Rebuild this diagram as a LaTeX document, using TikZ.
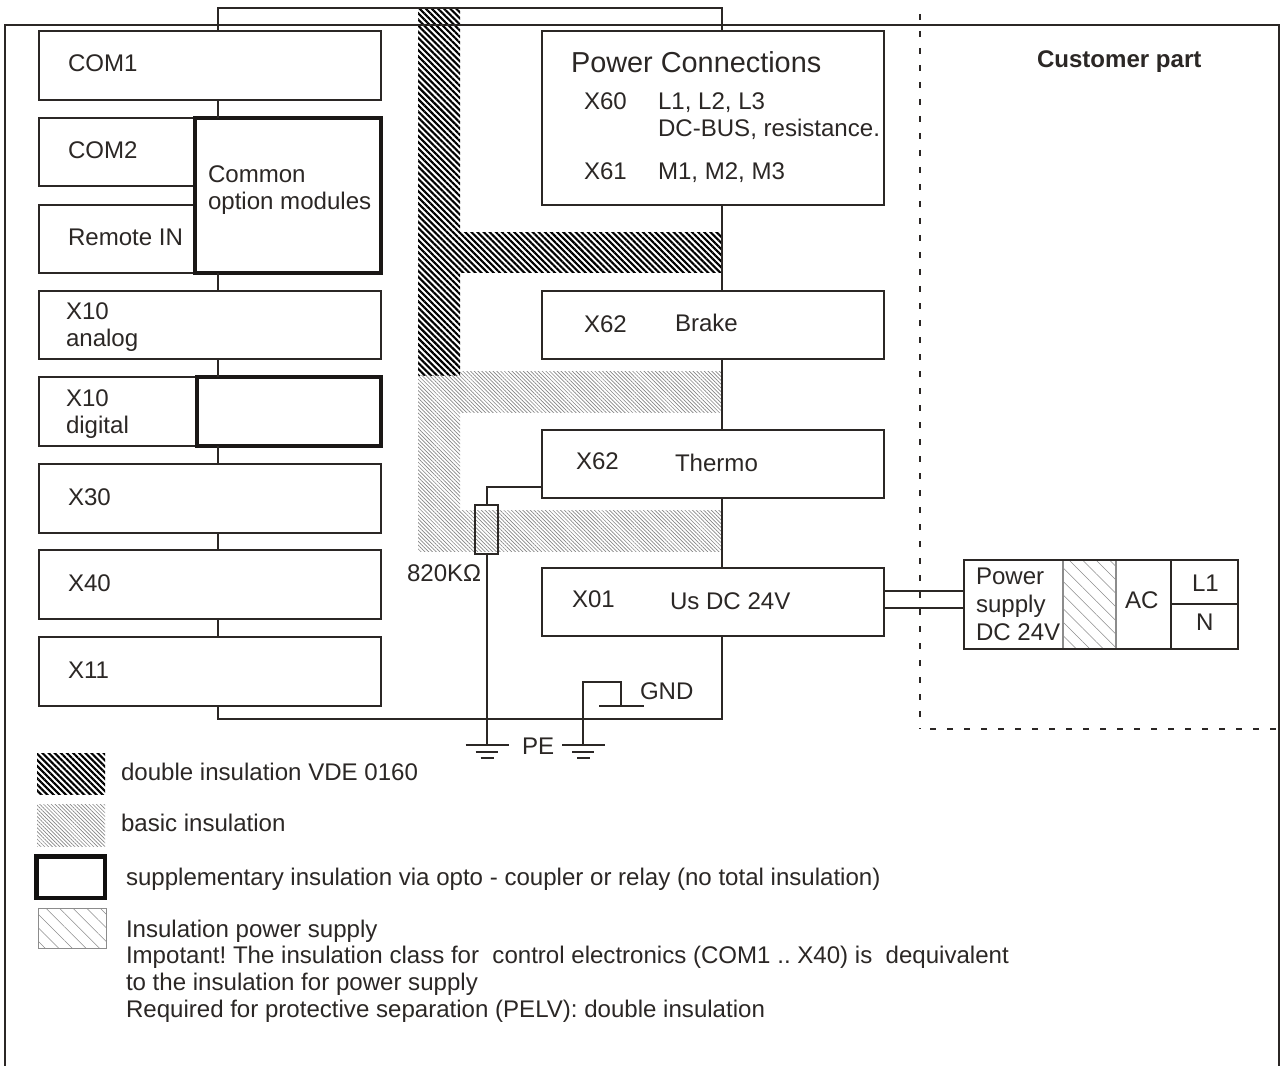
\documentclass[tikz,border=0pt]{standalone}
\usepackage{fontspec}
\setmainfont{Liberation Sans}
\usetikzlibrary{patterns.meta,calc}
\frenchspacing
\definecolor{ink}{HTML}{2B2725}
\tikzset{
 wire/.style={draw=ink,line width=1.5pt,line cap=butt,line join=miter},
 boxn/.style={draw=ink,line width=1.5pt,inner sep=0pt,outer sep=0pt},
 thickbox/.style={draw=ink!60!black,line width=2.7pt,inner sep=0pt,outer sep=0pt},
 legendbox/.style={draw=ink!40!black,line width=3.5pt,inner sep=0pt,outer sep=0pt},
 resbox/.style={draw=ink,line width=1.8pt,inner sep=0pt,outer sep=0pt},
 txt/.style={anchor=base west,inner sep=0pt,outer sep=0pt,text=ink,font=\fontsize{18.05}{21}\selectfont},
 dbl/.style={pattern={Lines[angle=-45,distance=3.25pt,line width=1.6pt]},pattern color=black},
 basic/.style={pattern={Lines[angle=-45,distance=2pt,line width=0.5pt]},pattern color=black!48},
 sup/.style={pattern={Lines[angle=-45,distance=7.2pt,line width=0.4pt]},pattern color=black!45},
 dotline/.style={draw=ink,line width=2pt,dash pattern=on 4.5pt off 8.25pt},
}
\newcommand{\bx}[6][boxn]{\node[#1,minimum width={(#5-#3)*0.75pt},minimum height={(#6-#4)*0.75pt}] (#2) at ({(#3+#5)/2},{(#4+#6)/2}) {};}
\begin{document}
\begin{tikzpicture}[x=0.75pt,y=-0.75pt]
\useasboundingbox (0,0) rectangle (1281,1066);
% insulation hatching
\path[dbl] (418,9) rectangle (460,375);
\path[dbl] (460,233) rectangle (722,273);
\path[basic] (418,375) rectangle (460,551);
\path[basic] (460,371) rectangle (722,412);
\path[basic] (460,510) rectangle (722,551);
% frame
\draw[wire] (5,1066) -- (5,25) -- (1279,25) -- (1279,1066);
\draw[dotline] (920,14) -- (920,729);
\draw[dotline] (930,729) -- (1279,729);
% left column
\bx{com1}{39}{31}{381}{100}
\bx{com2}{39}{118}{195}{186}
\bx{remote}{39}{205}{195}{273}
\bx{xana}{39}{291}{381}{359}
\bx{xdig}{39}{377}{197}{446}
\bx{xthirty}{39}{464}{381}{533}
\bx{xforty}{39}{550}{381}{619}
\bx{xeleven}{39}{637}{381}{706}
\bx[thickbox]{comt}{195}{118}{381}{273}
\bx[thickbox]{xdigt}{197}{377}{381}{446}
% right column
\bx{pow}{542}{31}{884}{205}
\bx{brake}{542}{291}{884}{359}
\bx{thermo}{542}{430}{884}{498}
\bx{xzero}{542}{568}{884}{636}
% buses
\coordinate (bl) at (218,0);
\coordinate (br) at (722,0);
\coordinate (bt) at (0,8);
\coordinate (bb) at (0,719);
\draw[wire] (bl |- com1.north) -- (bl |- bt) -- (br |- bt) -- (br |- pow.north);
\draw[wire] (bl |- com1.south) -- (bl |- com2.north);
\draw[wire] (bl |- remote.south) -- (bl |- xana.north);
\draw[wire] (bl |- xana.south) -- (bl |- xdig.north);
\draw[wire] (bl |- xdig.south) -- (bl |- xthirty.north);
\draw[wire] (bl |- xthirty.south) -- (bl |- xforty.north);
\draw[wire] (bl |- xforty.south) -- (bl |- xeleven.north);
\draw[wire] (bl |- xeleven.south) -- (bl |- bb) -- (br |- bb) -- (br |- xzero.south);
\draw[wire] (br |- pow.south) -- (br |- brake.north);
\draw[wire] (br |- brake.south) -- (br |- thermo.north);
\draw[wire] (br |- thermo.south) -- (br |- xzero.north);
% resistor and earth
\bx[resbox]{res}{475}{505}{498}{554}
\coordinate (g1) at (486.5,745);
\coordinate (g2) at (583,745);
\coordinate (th) at (542,487);
\coordinate (gndt) at (621,682);
\coordinate (gndb) at (621,706);
\draw[wire] (thermo.west |- th) -- (th -| res.north) -- (res.north);
\draw[wire] (res.south) -- (g1);
\draw[wire] (g2) -- (g2 |- gndt) -- (gndt) -- (gndb);
\draw[wire] ($(gndb)+(-22,0)$) -- ($(gndb)+(23,0)$);
\foreach \g in {g1,g2}{
 \draw[wire] ($(\g)+(-21,0)$) -- ($(\g)+(22,0)$);
 \draw[wire] ($(\g)+(-11,7)$) -- ($(\g)+(11,7)$);
 \draw[wire] ($(\g)+(-6,13)$) -- ($(\g)+(7,13)$);
}
% power supply
\path[sup] (1063,560) rectangle (1116,649);
\draw[draw=black!45,line width=0.9pt] (1063,560) -- (1063,649) (1116,560) -- (1116,649);
\bx{psu}{964}{560}{1238}{649}
\coordinate (ac) at (1171,0);
\coordinate (ln) at (0,604);
\draw[wire] (ac |- psu.north) -- (ac |- psu.south);
\draw[wire] (ac |- ln) -- (psu.east |- ln);
\coordinate (w1) at (0,591);
\coordinate (w2) at (0,608);
\draw[wire] (xzero.east |- w1) -- (psu.west |- w1);
\draw[wire] (xzero.east |- w2) -- (psu.west |- w2);
% legend
\path[dbl] (37,753) rectangle (105,794);
\path[basic] (37,804) rectangle (105,846);
\bx[legendbox]{lgsup}{36.8}{856.3}{105}{898}
\path[sup] (38,908) rectangle (106,948);
\draw[draw=black!45,line width=0.6pt] (38,908) rectangle (106,948);
% texts
\node[txt] (a1) at (68,72) {COM1};
\node[txt] (a2) at (68,159) {COM2};
\node[txt] (a3) at (68,246) {Remote IN};
\node[txt] (a4) at (66,320) {X10};
\node[txt] (a5) at (66,346) {analog};
\node[txt] (a6) at (66,406) {X10};
\node[txt] (a7) at (66,433) {digital};
\node[txt] (a8) at (68,505) {X30};
\node[txt] (a9) at (68,591) {X40};
\node[txt] (a10) at (68,678) {X11};
\node[txt] (a11) at (208,183) {Common};
\node[txt] (a12) at (208,210) {option modules};
\node[txt,font=\fontsize{21.65}{26}\selectfont] (b1) at (571,73) {Power Connections};
\node[txt] (b2) at (584,110) {X60};
\node[txt] (b3) at (658,110) {L1, L2, L3};
\node[txt] (b4) at (658,137) {DC-BUS, resistance.};
\node[txt] (b5) at (584,180) {X61};
\node[txt] (b6) at (658,180) {M1, M2, M3};
\node[txt] (b7) at (584,332) {X62};
\node[txt] (b8) at (675,331) {Brake};
\node[txt] (b9) at (576,469) {X62};
\node[txt] (b10) at (675,471) {Thermo};
\node[txt] (b11) at (572,607) {X01};
\node[txt] (b12) at (670,609) {Us DC 24V};
\node[txt] (c1) at (407,581) {820KΩ};
\node[txt] (c2) at (640,699) {GND};
\node[txt] (c3) at (522,754) {PE};
\node[txt,font=\fontsize{18.05}{21}\selectfont\bfseries] (c4) at (1037,68) {Customer part};
\node[txt] (d1) at (976,584) {Power};
\node[txt] (d2) at (976,612) {supply};
\node[txt] (d3) at (976,640) {DC 24V};
\node[txt] (d4) at (1125,608) {AC};
\node[txt] (d5) at (1192,591) {L1};
\node[txt] (d6) at (1196,630) {N};
\node[txt] (e1) at (121,780) {double insulation VDE 0160};
\node[txt] (e2) at (121,831) {basic insulation};
\node[txt] (e3) at (126,885) {supplementary insulation via opto - coupler or relay (no total insulation)};
\node[txt] (e4) at (126,937) {Insulation power supply};
\node[txt] (e5) at (126,963) {Impotant! The insulation class for\ \ control electronics (COM1 .. X40) is\ \ dequivalent};
\node[txt] (e6) at (126,990) {to the insulation for power supply};
\node[txt] (e7) at (126,1017) {Required for protective separation (PELV): double insulation};
\end{tikzpicture}
\end{document}
